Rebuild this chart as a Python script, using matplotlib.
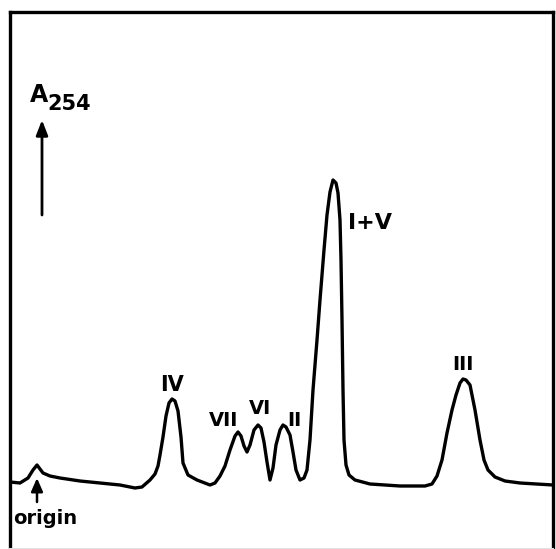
import matplotlib
matplotlib.use("Agg")
import matplotlib.pyplot as plt

# Chromatogram trace: migration distance (arbitrary units) vs A254 (arbitrary units)
distance = [0, 10, 18, 23, 27, 30, 33, 40, 50, 70, 90, 110, 125, 132,
            140, 145, 148, 150, 153, 156, 159, 162, 165, 168, 171, 173, 178, 187,
            200, 205, 210, 215, 220, 225, 228, 231, 234, 237, 240, 244, 248, 251,
            254, 257, 260, 263, 266, 270, 273, 276, 280, 283, 286, 290, 294,
            297, 300, 303, 307, 310, 314, 317, 320, 323, 326, 328, 330, 331,
            332, 333, 334, 336, 339, 345, 360, 390, 415, 422, 427, 432, 437,
            442, 446, 450, 453, 456, 460, 465, 470, 474, 478, 485, 495, 510, 543]
absorbance = [8, 7, 12, 20, 25, 21, 17, 14, 12, 9, 7, 5, 2, 3,
              10, 16, 24, 35, 53, 74, 87, 91, 89, 79, 53, 27, 15, 10,
              5, 7, 14, 24, 40, 54, 58, 54, 44, 38, 45, 60, 65, 62,
              48, 28, 10, 22, 45, 60, 65, 63, 55, 38, 20, 10, 12,
              20, 50, 100, 150, 190, 240, 275, 298, 310, 307, 297, 270, 230,
              170, 100, 50, 25, 15, 10, 6, 4, 4, 6, 14, 30, 57,
              80, 95, 107, 111, 110, 105, 80, 50, 30, 20, 13, 9, 7, 5]

# Peak labels
peak_names = ["IV", "VII", "VI", "II", "I+V", "III"]
peak_label_x = [162, 214, 250, 284, 360, 453]
peak_label_y = [105, 70, 81, 69, 267, 125]

# font size for each peak label
label_sizes = {"IV": 15, "VII": 14, "VI": 14, "II": 14, "I+V": 16, "III": 14}

fig = plt.figure(figsize=(5.56, 5.49), dpi=100)
ax = fig.add_axes([10 / 556, 0, 543 / 556, 537 / 549])
ax.set_xlim(0, 543)
ax.set_ylim(-59, 478)

ax.plot(distance, absorbance, color="black", lw=2.4,
        solid_joinstyle="round", solid_capstyle="round")

for name, x, y in zip(peak_names, peak_label_x, peak_label_y):
    ax.text(x, y, name, ha="center", va="center", fontsize=label_sizes[name],
            fontweight="bold", family="DejaVu Sans")

# A254 axis label with arrow
ax.text(20, 388, "A", ha="left", va="baseline", fontsize=17,
        fontweight="bold", family="DejaVu Sans")
ax.text(37, 380, "254", ha="left", va="baseline", fontsize=15,
        fontweight="bold", family="DejaVu Sans")
ax.annotate("", xy=(32, 370), xytext=(32, 275),
            arrowprops=dict(arrowstyle="-|>,head_width=0.35,head_length=0.9",
                            lw=2.0, color="black", shrinkA=0, shrinkB=0))

# origin marker
ax.annotate("", xy=(27, 12), xytext=(27, -12),
            arrowprops=dict(arrowstyle="-|>,head_width=0.35,head_length=0.8",
                            lw=1.8, color="black", shrinkA=0, shrinkB=0))
ax.text(35, -28, "origin", ha="center", va="center", fontsize=14,
        fontweight="bold", family="DejaVu Sans")

ax.set_xticks([])
ax.set_yticks([])
for side in ["left", "top", "right"]:
    ax.spines[side].set_linewidth(2.4)
    ax.spines[side].set_color("black")
ax.spines["bottom"].set_linewidth(1.5)
ax.spines["bottom"].set_color("#e2e2e2")

fig.savefig("out.png", dpi=100)
